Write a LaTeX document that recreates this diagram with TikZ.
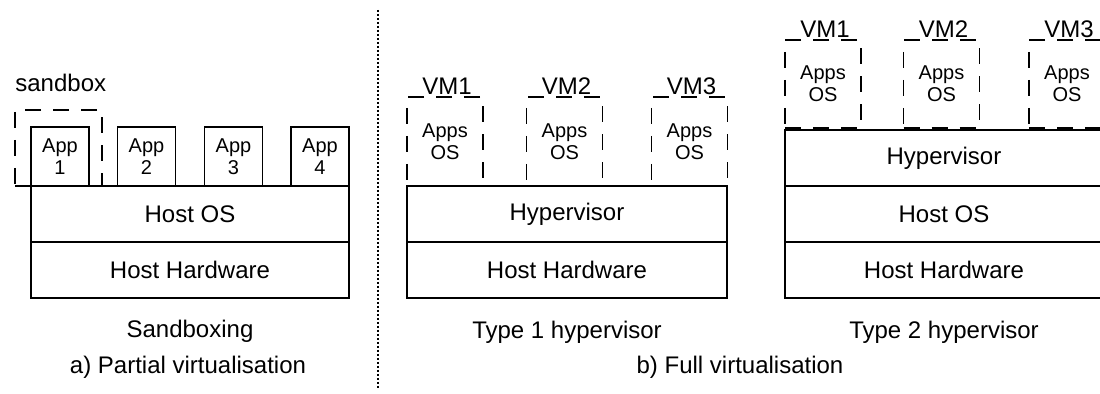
\documentclass[tikz,border=0pt]{standalone}
\usepackage{fontspec}
\setmainfont{Liberation Sans}
\begin{document}
\begin{tikzpicture}[x=0.5pt,y=-0.5pt,
  every node/.style={font=\fontsize{12}{14}\selectfont},
  layer/.style={draw, line width=0.75pt, minimum width=159pt, minimum height=28pt, inner sep=0pt},
  appbox/.style={draw, line width=0.75pt, minimum width=29pt, minimum height=29.5pt, inner sep=0pt,
    align=center, font=\fontsize{10}{11}\selectfont},
  vmbox/.style={draw, line width=0.8pt, dash pattern=on 8pt off 6pt, minimum width=38pt, minimum height=44pt,
    inner sep=0pt, align=center, font=\fontsize{10}{11}\selectfont},
  sandboxframe/.style={draw, line width=0.8pt, dash pattern=on 8pt off 6pt, minimum width=43.5pt,
    minimum height=38pt, inner sep=0pt},
  vmlabel/.style={anchor=base, inner sep=0pt},
  caption/.style={inner sep=0pt}]
\useasboundingbox (0,0) rectangle (1100,394);
\clip (0,0) rectangle (1100,394);

% a) sandboxing
\node[sandboxframe] (sbx) at (58.5,148) {};
\node[anchor=base west, inner sep=0pt] (sbxlabel) at (15,92) {sandbox};
\node[appbox] (app1) at (60,156.5) {App\\1};
\node[appbox] (app2) at (146.5,156.5) {App\\2};
\node[appbox] (app3) at (233.5,156.5) {App\\3};
\node[appbox] (app4) at (320,156.5) {App\\4};
\node[layer] (aos) at (190,214) {Host OS};
\node[layer] (ahw) at (190,270) {Host Hardware};
\node[caption] (acap) at (190,331) {Sandboxing};
\node[caption] (apart) at (188,367) {a) Partial virtualisation};

% separator
\coordinate (septop) at (378,10);
\coordinate (sepbot) at (378,388);
\draw[line width=1.3pt, dash pattern=on 1pt off 1pt] (septop) -- (sepbot);

% b) type 1 hypervisor
\foreach \n/\cx in {1/445, 2/564.5, 3/689.5}{
  \node[vmbox, minimum height=44.5pt] (bvm\n) at (\cx,141.5) {Apps\\OS};
  \node[vmlabel] (bvml\n) at ([xshift=1pt, yshift=1pt]bvm\n.north) {VM\n};
}
\node[layer, minimum width=160pt] (bhyp) at (567,214) {Hypervisor};
\node[layer, minimum width=160pt] (bhw) at (567,270) {Host Hardware};
\node[caption] (bcap) at (567,332) {Type 1 hypervisor};

% b) type 2 hypervisor
\foreach \n/\cx in {1/823, 2/941.5, 3/1067}{
  \node[vmbox] (cvm\n) at (\cx,84) {Apps\\OS};
  \node[vmlabel] (cvml\n) at ([xshift=1pt, yshift=1pt]cvm\n.north) {VM\n};
}
\node[layer] (chyp) at (944,158) {Hypervisor};
\node[layer] (cos) at (944,214) {Host OS};
\node[layer] (chw) at (944,270) {Host Hardware};
\node[caption] (ccap) at (944,332) {Type 2 hypervisor};

\node[caption] (bfull) at (740,367) {b) Full virtualisation};
\end{tikzpicture}
\end{document}
